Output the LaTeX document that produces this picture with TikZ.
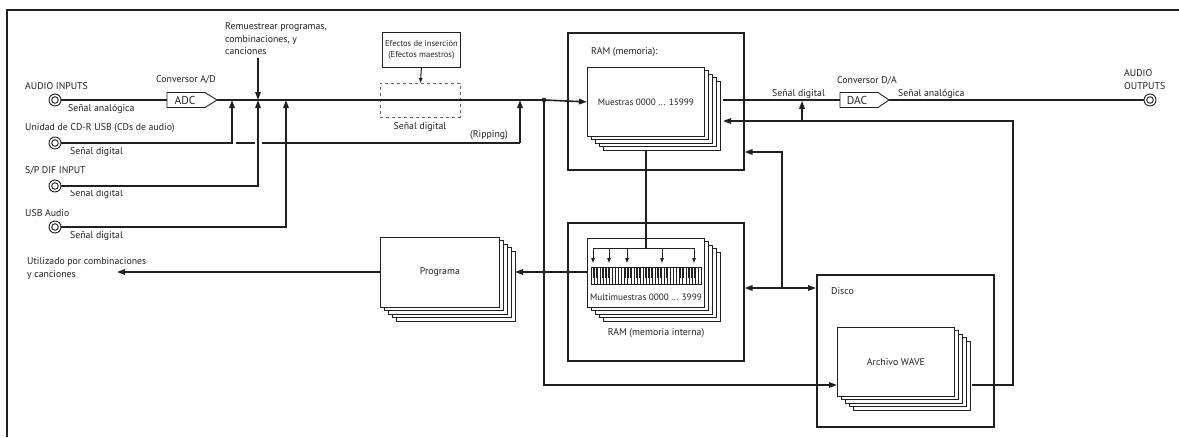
\documentclass[tikz,border=0pt]{standalone}
\usepackage{fontspec}
\setmainfont{PT Sans}
\usetikzlibrary{arrows.meta}
\definecolor{ink}{HTML}{231F20}
\newcommand\stackbehind[4]{\foreach \i in {4,3,2,1} \draw[sheet] (#1+4*\i,#2+3.5*\i) rectangle ++(#3,#4);}
\begin{document}
\begin{tikzpicture}[x=1pt,y=-1pt,
  every node/.style={text=ink, inner sep=0pt},
  font=\fontsize{9.8}{12.5}\selectfont,
  wire/.style={line width=1.6pt, draw=ink},
  arr/.style={wire, -{Triangle[length=8pt,width=5.5pt]}},
  sarr/.style={line width=1pt, draw=ink, -{Triangle[length=5pt,width=3.5pt]}},
  frame/.style={line width=1.6pt, draw=ink},
  sheet/.style={line width=0.8pt, draw=ink, fill=white},
  jack/.style={circle, draw=ink, line width=0.9pt, minimum size=12pt, fill=white,
    path picture={\draw[ink, line width=0.9pt] (path picture bounding box.center) circle (3.3pt);}},
  lbl/.style={anchor=west},
  small/.style={font=\fontsize{8.5}{11}\selectfont},
  mid/.style={font=\fontsize{9.2}{11}\selectfont}
]
\useasboundingbox (0,0) rectangle (1179,437);
% outer frame
\draw[line width=1.3pt, draw=ink] (7,437) -- (7,10) -- (1179,10);

% ---------- inputs ----------
\node[lbl] (tAI) at (25,86) {AUDIO INPUTS};
\node[jack] (jAI) at (55,100) {};
\node[lbl] (tAIs) at (68,109) {Señal analógica};
\node[lbl] (tCD) at (25,128) {Unidad de CD-R USB (CDs de audio)};
\node[jack] (jCD) at (55,143) {};
\node[lbl] (tCDs) at (70,152) {Señal digital};
\node[lbl] (tSP) at (25,171) {S/P DIF INPUT};
\node[jack] (jSP) at (55,186) {};
\node[lbl] (tSPs) at (70,194) {Señal digital};
\node[lbl] (tUSB) at (25,213) {USB Audio};
\node[jack] (jUSB) at (55,227) {};
\node[lbl] (tUSBs) at (70,236) {Señal digital};

% ADC
\draw[line width=0.9pt, draw=ink] (167,92.5) -- (205,92.5) -- (217,100) -- (205,107.5) -- (167,107.5) -- cycle;
\coordinate (adcin) at (167,100);
\coordinate (adcout) at (217,100);
\node (adc) at (185,100) {\fontsize{11.5}{12}\selectfont ADC};
\node (tAD) at (186,80) {Conversor A/D};
\draw[wire] (jAI.east) -- (adcin);

% resample label and arrow
\node[lbl, align=left] (tRe) at (225,39) {Remuestrear programas,\\combinaciones, y\\canciones};
\coordinate (reTop) at (258,58);

% effects
\node[draw=ink, line width=0.8pt, minimum width=78pt, minimum height=35pt, small, align=center,
  anchor=north west] (fx) at (382,32) {Efectos de inserción\\(Efectos maestros)};
\node[draw=ink!70, dashed, line width=0.9pt, minimum width=80pt, minimum height=34pt,
  anchor=north west] (fxd) at (380,83) {};
\draw[sarr] (fx.south) -- (fxd.north);
\node (tFXs) at (420,127) {Señal digital};
\node (tRip) at (489,135) {(Ripping)};

% RAM (memoria)
\node[frame, minimum width=176pt, minimum height=137pt, anchor=north west] (ram) at (567,32) {};
\node[lbl] (tRam) at (591,52) {RAM (memoria):};
\stackbehind{587}{67}{117}{69}
\node[sheet, minimum width=117pt, minimum height=69pt, anchor=north west, mid] (mue) at (587,67) {Muestras 0000 ... 15999};

% RAM interna
\node[frame, minimum width=176pt, minimum height=138pt, anchor=north west] (rint) at (567,222) {};
\stackbehind{587}{238}{117}{69}
\node[sheet, minimum width=117pt, minimum height=69pt, anchor=north west] (mm) at (587,238) {};
\node[mid] (tMM) at (646,297) {Multimuestras 0000 ... 3999};
\node (tRint) at (656,333) {RAM (memoria interna)};
% keyboard
\begin{scope}[shift={(591,267)}]
  \draw[line width=0.6pt, draw=ink, fill=white] (0,0) rectangle (110,17);
  \foreach \k in {1,...,35} \draw[line width=0.35pt, draw=ink] (\k*110/36,0) -- (\k*110/36,17);
  \foreach \k in {0,...,34} {
    \pgfmathtruncatemacro\m{mod(\k,7)}
    \ifnum\m=2\relax\else\ifnum\m=6\relax\else
      \fill[ink] ({(\k+1)*110/36-0.9},0) rectangle ++(1.8,10.5);
    \fi\fi
  }
\end{scope}
\coordinate (kbTop) at (646,248);
\draw[wire] (646,150) -- (kbTop);
\draw[line width=1pt, draw=ink] (593,248) -- (694,248);
\foreach \x in {593,609,627,662,694} \draw[sarr] (\x,248) -- (\x,263);

% Programa
\stackbehind{380}{237}{119}{70}
\node[sheet, minimum width=119pt, minimum height=70pt, anchor=north west] (prog) at (380,237) {Programa};
\draw[arr] (mm.west |- 0,272) -- (515,272);
\node[lbl, align=left] (tUt) at (27,268.5) {Utilizado por combinaciones\\y canciones};
\draw[arr] (prog.west |- 0,272) -- (117,272);

% Disco
\node[frame, minimum width=177pt, minimum height=152pt, anchor=north west] (disco) at (816,274) {};
\node[lbl] (tDisco) at (831,291) {Disco};
\stackbehind{837}{327}{117}{69}
\node[sheet, minimum width=117pt, minimum height=69pt, anchor=north west] (wave) at (837,327) {Archivo WAVE};

% DAC and outputs
\draw[line width=0.9pt, draw=ink] (840,92.5) -- (878,92.5) -- (889,100) -- (878,107.5) -- (840,107.5) -- cycle;
\coordinate (dacin) at (840,100);
\coordinate (dacout) at (889,100);
\node (dac) at (857,100.5) {\fontsize{11.5}{12}\selectfont DAC};
\node (tDA) at (867,81) {Conversor D/A};
\node[lbl] (tDs) at (772,94) {Señal digital};
\node[lbl] (tDa) at (898,94) {Señal analógica};
\node[lbl, align=left] (tAO) at (1124,79.5) {AUDIO\\OUTPUTS};
\node[jack] (jAO) at (1150,100) {};

% ---------- connectors ----------
% ripping path
\coordinate (ripS) at (236,143);
\coordinate (ripC) at (520,143);
\coordinate (ripE) at (520,100);
\draw[wire] (ripS) -- (ripC);
\draw[arr] (ripC) -- (ripE);
% inputs to main line
\draw[arr] (jCD.east) -- (232,143) -- (232,100);
\draw[arr, preaction={draw=white, line width=7pt, -}] (jSP.east) -- (258,186) -- (258,100);
\draw[arr] (jUSB.east) -- (286,227) -- (286,100);
\draw[arr] (reTop) -- (258,100);
% main line
\draw[wire] (adcout) -- (544,100);
\draw[arr] (544,100) -- (mue.west);
\fill[ink] (544,100) circle (2.3pt);
\coordinate (jdot) at (544,100);
% to wave file
\draw[arr] (jdot) -- (544,385) -- (wave.west |- 0,385);
% RAM output to DAC
\draw[wire] (723,100) -- (dacin);
\draw[wire] (dacout) -- (jAO.west);
% wave file back to RAM
\coordinate (wvR) at (972,385);
\draw[arr] (wvR) -- (1013,385) -- (1013,121) -- (723,121);
\draw[arr] (802,121) -- (802,100.8);
% disk <-> RAM
\coordinate (bj) at (782,288);
\draw[arr] (bj) -- (782,152) -- (ram.east |- 0,152);
\draw[arr] (bj) -- (rint.east |- bj);
\draw[arr] (bj) -- (disco.west |- bj);
\end{tikzpicture}
\end{document}
